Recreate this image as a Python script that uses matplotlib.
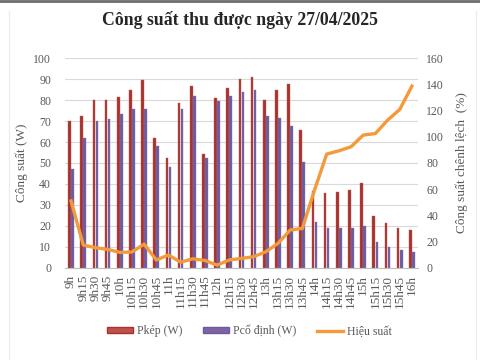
import matplotlib
matplotlib.use('Agg')
import matplotlib.pyplot as plt
from matplotlib.patches import Patch
from matplotlib.lines import Line2D
import numpy as np

plt.rcParams['font.family'] = ['Liberation Serif', 'DejaVu Serif']

times = ['9h', '9h15', '9h30', '9h45', '10h', '10h15', '10h30', '10h45',
         '11h', '11h15', '11h30', '11h45', '12h', '12h15', '12h30', '12h45',
         '13h', '13h15', '13h30', '13h45', '14h', '14h15', '14h30', '14h45',
         '15h', '15h15', '15h30', '15h45', '16h']
p_kep = [70, 72.5, 80, 80, 81.5, 85, 89.5, 62, 52.5, 78.5, 87, 54.5, 81, 86,
         90, 91, 80, 85, 87.5, 65.8, 36.5, 35.5, 36.3, 37, 40.3, 24.8, 21.5,
         18.8, 18]
p_co_dinh = [47, 62, 70, 71, 73.5, 76, 76, 58, 48, 75.8, 81.8, 52.2, 79.8,
             81.8, 84, 84.9, 72.5, 71.3, 67.7, 50.6, 22, 18.8, 18.8, 18.8,
             19.9, 12.1, 10, 8.4, 7.6]
hieu_suat = [51, 17.3, 15.3, 14, 11.7, 12, 18, 5.9, 9.7, 4.2, 6.8, 5.5, 2,
             5.9, 7.1, 8.4, 12.2, 18.6, 28.8, 30, 59.3, 86.8, 89.3, 92.4,
             101.3, 102.5, 112.7, 120.9, 138.7]

red = '#a8322e'
purple = '#6b5b9e'
orange = '#f39a3a'
grey = '#595959'

fig = plt.figure(figsize=(4.8, 3.6), dpi=100)
ax = fig.add_axes([0.1354, 0.2564, 0.7354, 0.5817])
ax2 = ax.twinx()

x = np.arange(len(times))
w = 0.22
ax.bar(x - 0.13, p_kep, w, color=red, edgecolor='#c85a55', linewidth=0.3, zorder=2)
ax.bar(x + 0.12, p_co_dinh, w, color=purple, edgecolor='#8a7ab8', linewidth=0.3, zorder=2)
ax2.plot(x, hieu_suat, color=orange, lw=2.4, zorder=3, solid_joinstyle='round')

ax.set_xlim(-0.5, len(times) - 0.5)
ax.set_ylim(0, 100)
ax.set_yticks(range(0, 101, 10))
ax2.set_ylim(0, 160)
ax2.set_yticks(range(0, 161, 20))
ax.set_xticks(x)
ax.set_xticklabels(times, rotation=90, color=grey)
ax.grid(axis='y', color='#d9d9d9', lw=0.8, zorder=0)
ax.set_axisbelow(True)

for a in (ax, ax2):
    for s in a.spines.values():
        s.set_visible(False)
    a.tick_params(length=0, labelsize=8.5, labelcolor=grey)
ax.spines['bottom'].set_visible(True)
ax.spines['bottom'].set_color('#bfbfbf')
ax.tick_params(axis='x', pad=5, labelsize=9.5)
ax.tick_params(axis='y', pad=10)
ax2.tick_params(axis='y', pad=6)

ax.set_ylabel('Công suất (W)', fontsize=9.5, color=grey, labelpad=4)
ax2.set_ylabel('Công suất chênh lệch  (%)', fontsize=9.5, color=grey, labelpad=8)

fig.text(0.5, 0.945, 'Công suất thu được ngày 27/04/2025', ha='center',
         va='center', fontsize=12.8, fontweight='bold', color='#262626')

handles = [Patch(facecolor='#c0504d', edgecolor='#a8322e'),
           Patch(facecolor='#8064a2', edgecolor='#6b5b9e'),
           Line2D([0], [0], color=orange, lw=2.4)]
fig.legend(handles, ['Pkép (W)', 'Pcố định (W)', 'Hiệu suất'],
           loc='center', bbox_to_anchor=(0.52, 0.08), ncol=3, frameon=False,
           fontsize=8.5, handlelength=2.2, handleheight=0.35, columnspacing=1.8,
           handletextpad=0.3, labelcolor=grey)

# border lines from the screenshot
fig.add_artist(Line2D([0, 1], [0.996, 0.996], color='#6e6e6e', lw=2))
fig.add_artist(Line2D([0.019, 0.019], [0, 0.97], color='#ececec', lw=0.8))
fig.add_artist(Line2D([0.992, 0.992], [0, 0.97], color='#ececec', lw=0.8))

fig.savefig('out.png', dpi=100)
